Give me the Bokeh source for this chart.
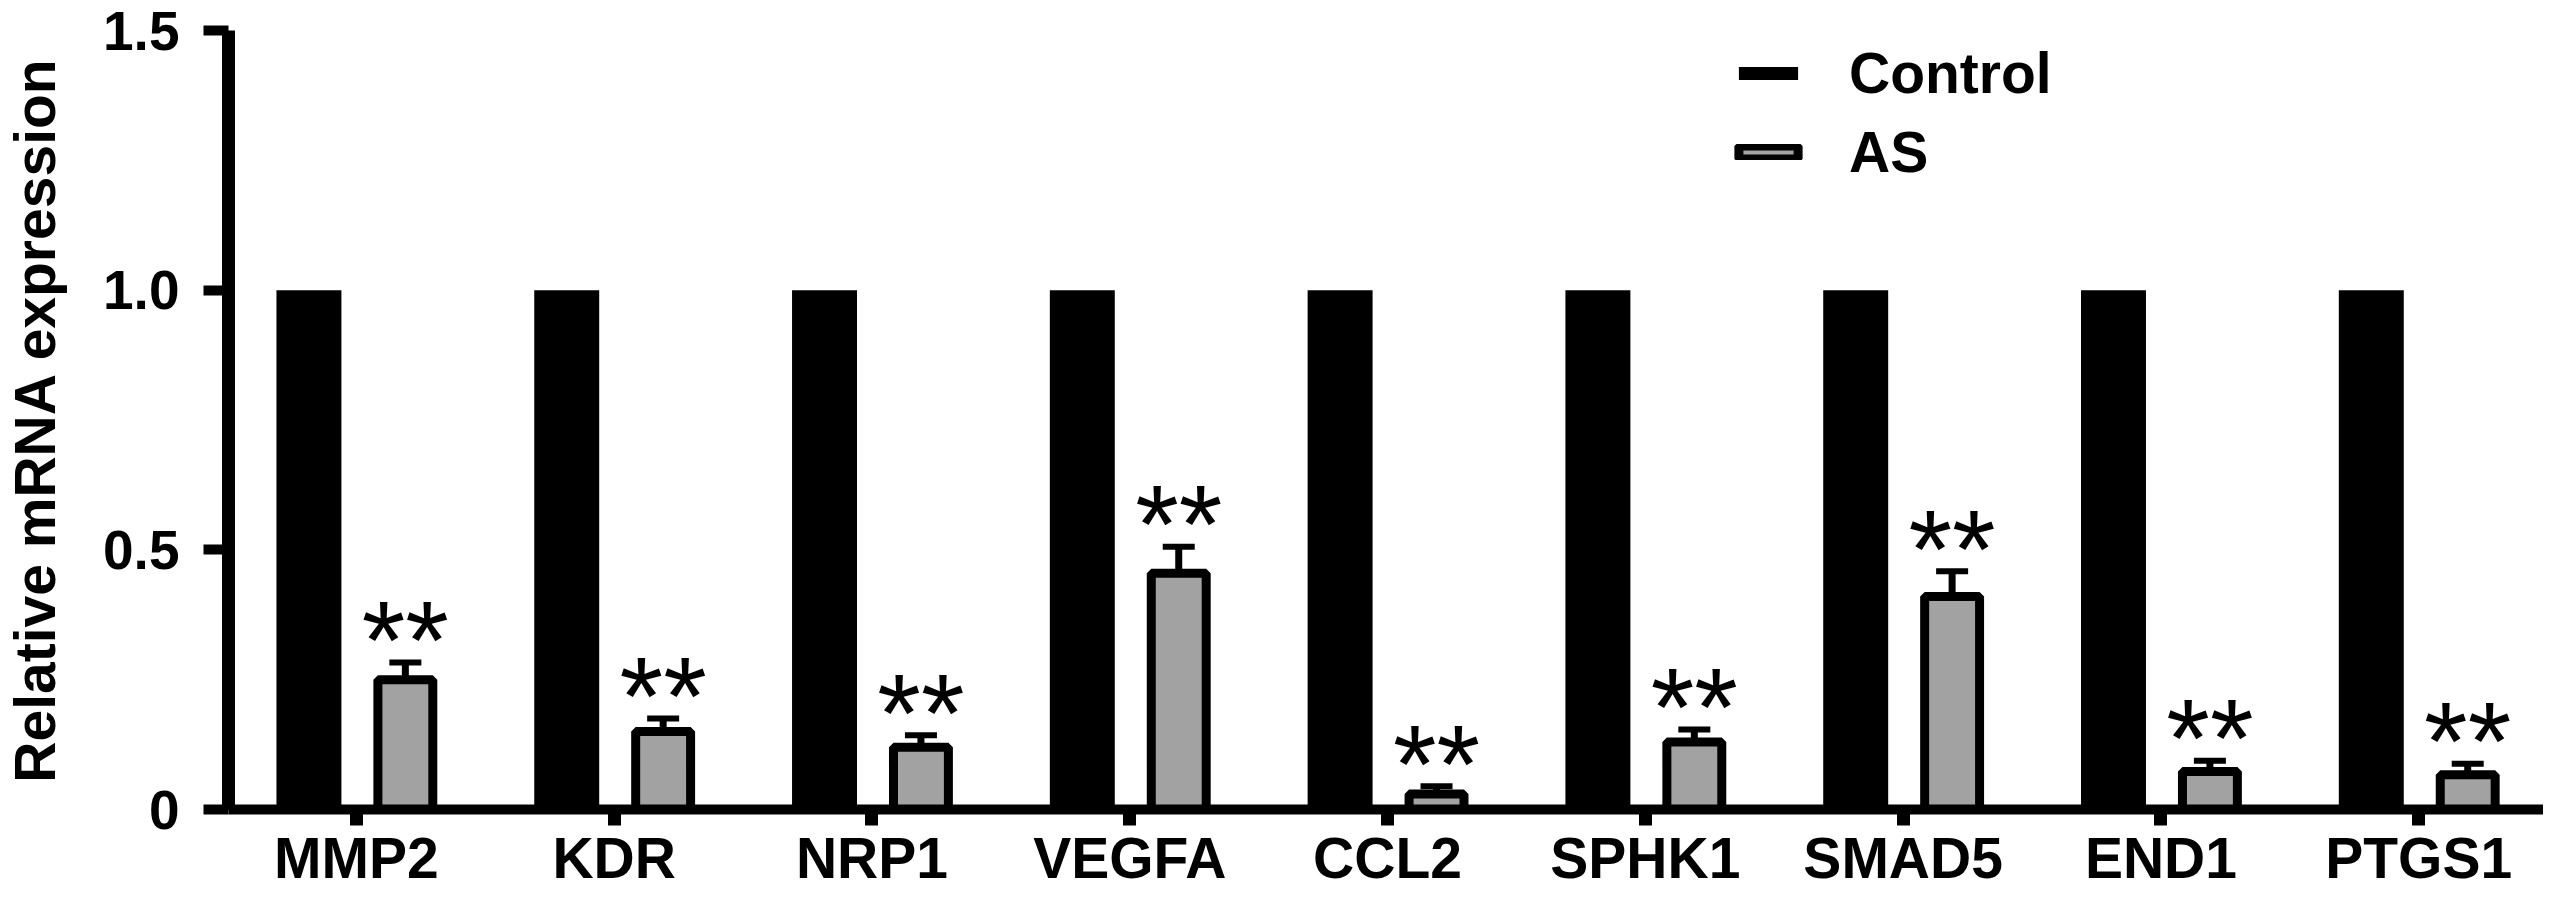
from bokeh.plotting import figure
from bokeh.models import (ColumnDataSource, Range1d, FixedTicker, Whisker, TeeHead,
                          Legend, LegendItem)
from bokeh.core.properties import value
from bokeh.embed import file_html
from bokeh.resources import INLINE

# ---- data ----
genes = ["MMP2", "KDR", "NRP1", "VEGFA", "CCL2", "SPHK1", "SMAD5", "END1", "PTGS1"]
control_values = [1.0, 1.0, 1.0, 1.0, 1.0, 1.0, 1.0, 1.0, 1.0]
as_values = [0.25, 0.15, 0.12, 0.455, 0.03, 0.13, 0.41, 0.073, 0.067]
as_errors = [0.033, 0.025, 0.023, 0.051, 0.015, 0.024, 0.049, 0.021, 0.021]
significance = ["**", "**", "**", "**", "**", "**", "**", "**", "**"]
y_ticks = [0, 0.5, 1.0, 1.5]
y_tick_labels = ["0", "0.5", "1.0", "1.5"]

FONT = "Liberation Sans"
GRAY = "#a2a2a2"

positions = list(range(1, len(genes) + 1))
CTRL_OFF = -0.184
AS_OFF = 0.19

ctrl_src = ColumnDataSource(dict(x=[i + CTRL_OFF for i in positions], top=control_values))
as_src = ColumnDataSource(dict(
    x=[i + AS_OFF for i in positions],
    top=as_values,
    upper=[v + e for v, e in zip(as_values, as_errors)],
    sig=significance,
))

p = figure(width=2543, height=892, output_backend="svg", toolbar_location=None,
           x_range=Range1d(0.504, 9.484), y_range=Range1d(0, 1.5),
           min_border_left=226, min_border_right=0, min_border_top=30, min_border_bottom=80)
p.outline_line_color = None
p.grid.visible = False
p.background_fill_color = "white"
p.border_fill_color = "white"

r_ctrl = p.vbar(x="x", top="top", bottom=0, width=0.252, source=ctrl_src,
                fill_color="black", line_color=None)
r_as = p.vbar(x="x", top="top", bottom=0, width=0.213, source=as_src,
              fill_color=GRAY, line_color="black", line_width=9)

whisk = Whisker(base="x", upper="upper", lower="top", source=as_src,
                line_color="black", line_width=7,
                upper_head=TeeHead(size=32, line_width=6, line_color="black"),
                lower_head=None)
p.add_layout(whisk)

p.text(x="x", y="upper", text="sig", source=as_src,
       text_font=value(FONT), text_font_size="112px", text_font_style="normal",
       text_color="black", text_align="center", text_baseline="alphabetic",
       y_offset=-22)

# ---- axes ----
xa = p.xaxis[0]
xa.ticker = FixedTicker(ticks=positions)
xa.major_label_overrides = {i: g for i, g in zip(positions, genes)}
xa.axis_line_width = 10
xa.axis_line_color = "black"
xa.major_tick_line_width = 13
xa.major_tick_out = 16
xa.major_tick_in = 0
xa.minor_tick_line_color = None
xa.major_label_text_font = FONT
xa.major_label_text_font_style = "bold"
xa.major_label_text_font_size = "57px"
xa.major_label_text_color = "black"
xa.major_label_standoff = 0

ya = p.yaxis[0]
ya.ticker = FixedTicker(ticks=y_ticks)
ya.major_label_overrides = {t: s for t, s in zip(y_ticks, y_tick_labels)}
ya.axis_line_width = 13
ya.axis_line_color = "black"
ya.major_tick_line_width = 10
ya.major_tick_out = 25
ya.major_tick_in = 0
ya.minor_tick_line_color = None
ya.major_label_text_font = FONT
ya.major_label_text_font_style = "bold"
ya.major_label_text_font_size = "55px"
ya.major_label_text_color = "black"
ya.major_label_standoff = 24
ya.axis_label = "Relative mRNA expression"
ya.axis_label_text_font = FONT
ya.axis_label_text_font_style = "bold"
ya.axis_label_text_font_size = "57px"
ya.axis_label_text_color = "black"
ya.axis_label_standoff = 33

# ---- legend ----
legend = Legend(items=[LegendItem(label="Control", renderers=[r_ctrl]),
                       LegendItem(label="AS", renderers=[r_as])],
                location=(1503, 624), orientation="vertical",
                glyph_width=74, glyph_height=16, label_standoff=44, spacing=13,
                padding=0, margin=0, border_line_color=None,
                background_fill_alpha=0,
                label_text_font=FONT, label_text_font_style="bold",
                label_text_font_size="57px", label_text_color="black")
p.add_layout(legend)

open("out.html", "w").write(file_html(p, INLINE))
